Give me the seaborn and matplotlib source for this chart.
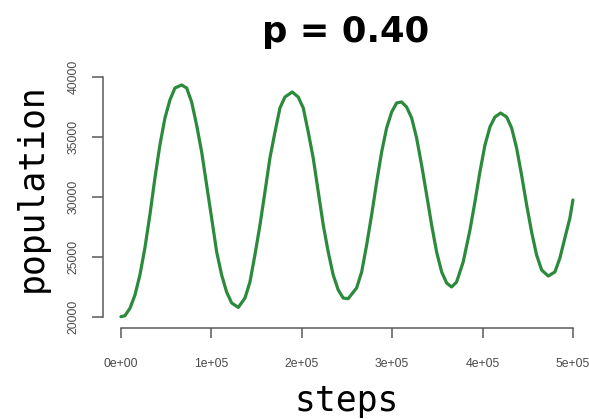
import matplotlib
matplotlib.use("Agg")
import matplotlib.pyplot as plt
import seaborn as sns
import pandas as pd

# ---- data ----
steps = [0, 4400, 10000, 15500, 21000, 26500, 32000, 37600, 43100, 48700,
         54200, 59700, 67100, 72700, 78200, 83700, 89300, 94800, 100300, 105900,
         111400, 116900, 122500, 129800, 137200, 142700, 148200, 153800, 159300,
         164800, 170400, 175900, 181400, 189500, 196100, 201700, 207200, 212700,
         218300, 223800, 229300, 234800, 240400, 245900, 251400, 260700, 266300,
         271800, 277300, 282900, 288400, 293900, 299500, 305000, 310500, 316000,
         321600, 327100, 332600, 338200, 343700, 349200, 354800, 360300, 365800,
         371300, 378600, 386100, 391600, 397100, 402700, 408200, 413700, 420000,
         426700, 432200, 437700, 443200, 448800, 454300, 459800, 465400, 472700,
         480100, 485600, 491100, 496700, 500000]
population = [20050, 20130, 20750, 21850, 23520, 25760, 28500, 31580, 34320, 36570,
              38070, 39060, 39310, 39060, 37900, 35990, 33740, 31000, 28260, 25430,
              23520, 22100, 21190, 20820, 21600, 22930, 25180, 27670, 30420,
              33240, 35400, 37400, 38310, 38730, 38310, 37400, 35400, 33240,
              30420, 27670, 25430, 23520, 22270, 21600, 21550, 22440, 23770,
              26010, 28500, 31250, 33740, 35740, 37070, 37820, 37900, 37480,
              36570, 34900, 32660, 30170, 27670, 25430, 23770, 22850, 22520,
              22930, 24600, 27260, 29590, 32080, 34320, 35820, 36650, 36980,
              36650, 35740, 34070, 31830, 29340, 27090, 25180, 23930, 23430,
              23770, 24930, 26590, 28260, 29750]
x_ticks = [0, 100000, 200000, 300000, 400000, 500000]
x_tick_labels = ["0e+00", "1e+05", "2e+05", "3e+05", "4e+05", "5e+05"]
y_ticks = [20000, 25000, 30000, 35000, 40000]
y_tick_labels = ["20000", "25000", "30000", "35000", "40000"]
title = "p = 0.40"
x_label = "steps"
y_label = "population"

df = pd.DataFrame({"steps": steps, "population": population})

sns.set_theme(style="white")
plt.rcParams["font.family"] = ["Liberation Sans", "DejaVu Sans"]

W, H = 589, 419
fig = plt.figure(figsize=(W / 100, H / 100), dpi=100)
left_px, right_px, top_px, bottom_px = 102.5, 591, 67, 328
ax = fig.add_axes([left_px / W, 1 - bottom_px / H,
                   (right_px - left_px) / W, (bottom_px - top_px) / H])

sns.lineplot(data=df, x="steps", y="population", ax=ax,
             color="#2b8a3c", linewidth=2.3, sort=False,
             solid_joinstyle="round", solid_capstyle="round")

ax.set_xlim(-20400, 520000)
ax.set_ylim(19110, 40806)

ax.set_xticks(x_ticks)
ax.set_xticklabels(x_tick_labels)
ax.set_yticks(y_ticks)
ax.set_yticklabels(y_tick_labels, rotation=90, va="center")

for s in ["top", "right"]:
    ax.spines[s].set_visible(False)
ax.spines["bottom"].set_bounds(x_ticks[0], x_ticks[-1])
ax.spines["left"].set_bounds(y_ticks[0], y_ticks[-1])
for s in ["bottom", "left"]:
    ax.spines[s].set_color("#5a5a5a")
    ax.spines[s].set_linewidth(1.1)

ax.tick_params(axis="x", direction="out", length=7.3, width=1.1, color="#5a5a5a",
               pad=14.5, labelsize=8.8, labelcolor="#4a4a4a", bottom=True)
ax.tick_params(axis="y", direction="out", length=8.2, width=1.1, color="#5a5a5a",
               pad=8.5, labelsize=8.8, labelcolor="#4a4a4a", left=True)

ax.set_xlabel("")
ax.set_ylabel("")
ax.grid(False)

fig.text(345.8 / W, 1 - 32 / H, title, ha="center", va="center",
         fontsize=25.5, fontweight="bold", family=["DejaVu Sans"], color="black")
fig.text(346.5 / W, 1 - 411 / H, x_label, ha="center", va="baseline",
         fontsize=25, family=["DejaVu Sans Mono"], color="black")
fig.text(41.7 / W, 1 - 188 / H, y_label, ha="center", va="baseline",
         rotation=90, rotation_mode="anchor",
         fontsize=25, family=["DejaVu Sans Mono"], color="black")

fig.savefig("out.png", dpi=100, facecolor="white")
